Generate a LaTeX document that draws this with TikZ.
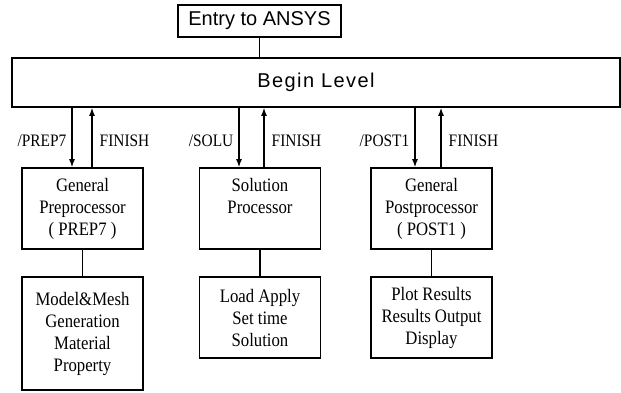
\documentclass[tikz,border=0pt]{standalone}
\usepackage{fontspec}
\setmainfont{Liberation Serif}[FakeStretch=0.88]
\newfontfamily\headfont{Liberation Sans}
\usetikzlibrary{arrows.meta}

\begin{document}
\begin{tikzpicture}[
  x=1pt, y=-1pt,
  box/.style={draw, line width=1.6pt, minimum width=121pt, inner sep=0pt, align=center, font=\fontsize{19}{22}\selectfont},
  level/.style={draw, line width=1.6pt, inner sep=0pt, font=\headfont\fontsize{20}{22}\selectfont},
  arrow/.style={-{Latex[length=8pt,width=6pt]}, line width=1.4pt},
  link/.style={line width=1.4pt},
  lab/.style={inner sep=0pt, font=\fontsize{17.5}{20}\selectfont}
]
\useasboundingbox (0,0) rectangle (621,392);

% Top level
\node[level, minimum width=163pt, minimum height=32pt] (entry) at (259.5,21) {Entry to ANSYS};
\node[level, minimum width=608pt, minimum height=49pt] (begin) at (316,82.5) {\addfontfeature{LetterSpace=7}Begin Level};
\draw[link] (entry.south) -- (entry.south |- begin.north);

% Processors
\node[box, minimum height=81pt] (prep) at (82.5,208.5) {General\\Preprocessor\\( PREP7 )};
\node[box, minimum height=81pt] (solu) at (260,208.5) {Solution\\Processor\\\phantom{( PREP7 )}};
\node[box, minimum height=81pt] (post) at (431.5,208.5) {General\\Postprocessor\\( POST1 )};

% Tasks
\node[box, minimum height=113pt] (model) at (82.5,333.5) {Model\&Mesh\\Generation\\Material\\Property};
\node[box, minimum height=81pt] (load) at (260,317.5) {Load Apply\\Set time\\Solution};
\node[box, minimum height=81pt] (plot) at (431.5,317.5) {Plot Results\\Results Output\\Display};

\draw[link] (prep) -- (model);
\draw[link] (solu) -- (load);
\draw[link] (post) -- (plot);

% Enter and leave
\coordinate (prepin) at ([xshift=-10.5pt]prep.north);
\coordinate (prepout) at ([xshift=9.5pt]prep.north);
\coordinate (soluin) at ([xshift=-21pt]solu.north);
\coordinate (soluout) at ([xshift=4pt]solu.north);
\coordinate (postin) at ([xshift=-16.5pt]post.north);
\coordinate (postout) at ([xshift=9.5pt]post.north);

\draw[arrow] (begin.south -| prepin) -- node[lab, left=5pt, pos=.55] {/PREP7} (prepin);
\draw[arrow] (prepout) -- node[lab, right=7pt, pos=.45] {FINISH} (begin.south -| prepout);
\draw[arrow] (begin.south -| soluin) -- node[lab, left=5pt, pos=.55] {/SOLU} (soluin);
\draw[arrow] (soluout) -- node[lab, right=7pt, pos=.45] {FINISH} (begin.south -| soluout);
\draw[arrow] (begin.south -| postin) -- node[lab, left=5pt, pos=.55] {/POST1} (postin);
\draw[arrow] (postout) -- node[lab, right=7pt, pos=.45] {FINISH} (begin.south -| postout);
\end{tikzpicture}
\end{document}
